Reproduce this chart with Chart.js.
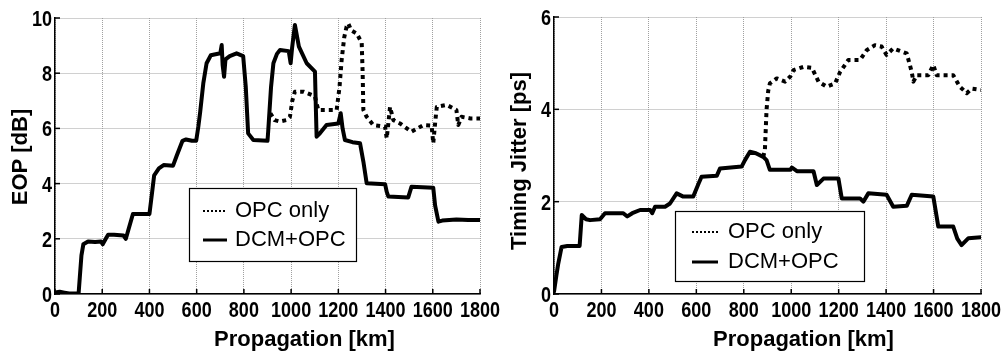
<!DOCTYPE html>
<html><head><meta charset="utf-8">
<script src="https://cdn.jsdelivr.net/npm/chart.js@4.4.0/dist/chart.umd.min.js"></script>
<style>
html,body{margin:0;padding:0;background:#fff;width:1003px;height:356px;overflow:hidden}
#w1{position:absolute;left:0;top:0;width:500px;height:356px}
#w2{position:absolute;left:500px;top:0;width:503px;height:356px}
</style></head><body>
<div id="w1"><canvas id="c1" width="500" height="356"></canvas></div>
<div id="w2"><canvas id="c2" width="503" height="356"></canvas></div>
<script>
// ---- Data: EOP [dB] vs propagation [km]
const eopDcmKm  = [0,20,40,60,100,105,112,120,140,170,195,202,215,225,250,290,300,310,330,360,400,410,420,440,460,500,515,540,555,580,598,607,615,628,642,660,700,706,710,716,722,740,769,797,808,818,840,900,903,915,925,940,953,990,998,1004,1016,1033,1066,1101,1104,1108,1122,1150,1200,1210,1218,1228,1260,1292,1306,1320,1398,1405,1412,1496,1510,1602,1610,1624,1640,1700,1750,1800];
const eopDcmVal = [0.05,0.08,0.05,0.02,0.02,0.6,1.4,1.8,1.9,1.88,1.9,1.8,2.0,2.15,2.15,2.12,2.0,2.3,2.9,2.9,2.9,3.6,4.3,4.55,4.67,4.65,5.0,5.55,5.6,5.55,5.55,6.06,6.6,7.63,8.36,8.65,8.72,9.02,8.3,7.87,8.5,8.62,8.72,8.62,7.5,5.82,5.58,5.55,5.9,7.5,8.36,8.7,8.84,8.8,8.36,8.9,9.75,8.96,8.36,8.06,7.0,5.7,5.82,6.12,6.18,6.55,6.0,5.58,5.5,5.46,4.8,4.01,3.98,3.7,3.53,3.5,3.89,3.85,3.2,2.62,2.66,2.7,2.68,2.68];
const eopOpcKm  = [912,930,953,980,995,1005,1016,1052,1090,1101,1108,1115,1193,1205,1214,1225,1235,1242,1255,1278,1299,1303,1306,1320,1348,1398,1405,1412,1419,1433,1461,1490,1510,1560,1595,1602,1610,1617,1659,1700,1708,1722,1760,1800];
const eopOpcVal = [6.55,6.3,6.25,6.3,6.42,7.0,7.33,7.33,7.2,7.15,6.9,6.67,6.67,7.5,8.48,9.3,9.69,9.8,9.55,9.44,9.1,8.0,6.67,6.42,6.12,6.06,5.64,6.2,6.78,6.3,6.18,6.0,5.88,6.12,6.1,5.46,6.2,6.78,6.85,6.67,6.12,6.42,6.36,6.36];
// ---- Data: Timing jitter [ps] vs propagation [km]
const tjDcmKm  = [0,10,18,32,56,108,117,135,152,194,215,292,309,330,363,405,414,426,468,489,517,545,587,610,622,686,700,791,805,826,851,882,896,910,996,1003,1024,1094,1108,1136,1199,1213,1290,1304,1325,1402,1430,1487,1508,1599,1620,1683,1700,1718,1747,1800];
const tjDcmVal = [0.05,0.4,0.66,1.02,1.04,1.04,1.71,1.62,1.6,1.62,1.75,1.75,1.68,1.75,1.82,1.82,1.75,1.89,1.89,1.96,2.18,2.11,2.11,2.4,2.54,2.56,2.72,2.76,2.9,3.08,3.05,2.97,2.9,2.69,2.69,2.74,2.66,2.66,2.36,2.5,2.5,2.07,2.07,2.0,2.18,2.15,1.89,1.91,2.15,2.11,1.46,1.46,1.2,1.06,1.21,1.23];
const tjOpcKm  = [882,889,896,903,910,939,974,996,1010,1052,1087,1115,1150,1185,1206,1241,1290,1318,1353,1381,1402,1430,1487,1508,1515,1529,1578,1599,1613,1683,1711,1740,1761,1800];
const tjOpcVal = [2.97,3.12,3.99,4.4,4.56,4.67,4.6,4.71,4.85,4.92,4.9,4.6,4.49,4.56,4.81,5.07,5.07,5.28,5.39,5.36,5.18,5.32,5.21,4.81,4.6,4.74,4.74,4.96,4.74,4.74,4.49,4.35,4.45,4.42];
// ---- Labels
const seriesLabels = ['OPC only','DCM+OPC'];
const xTitle = 'Propagation [km]';
const yTitles = ['EOP [dB]','Timing Jitter [ps]'];

const pts = (xs, ys) => xs.map((x,i)=>({x:x, y:ys[i]}));
const TEXTFONT = "'Liberation Sans',Arial,sans-serif";

const decor = {
  id:'decor',
  afterDraw(chart, args, o){
    const ctx = chart.ctx, a = chart.chartArea;
    const xs = chart.scales.x, ys = chart.scales.y;
    ctx.save();
    // inner tick marks
    ctx.strokeStyle = '#000'; ctx.lineWidth = 1.5;
    xs.ticks.forEach(t=>{ const p = xs.getPixelForValue(t.value);
      ctx.beginPath(); ctx.moveTo(p, a.bottom); ctx.lineTo(p, a.bottom-5); ctx.stroke(); });
    ys.ticks.forEach(t=>{ const p = ys.getPixelForValue(t.value);
      ctx.beginPath(); ctx.moveTo(a.left, p); ctx.lineTo(a.left+5, p); ctx.stroke(); });
    // tick labels (bold, condensed)
    ctx.fillStyle = '#000';
    ctx.font = 'bold 22px ' + TEXTFONT;
    ctx.textBaseline = 'alphabetic';
    ctx.textAlign = 'center';
    xs.ticks.forEach(t=>{ const p = xs.getPixelForValue(t.value);
      ctx.save(); ctx.translate(p, a.bottom + 23); ctx.scale(0.82, 1);
      ctx.fillText(String(t.value), 0, 0); ctx.restore(); });
    ctx.textAlign = 'right';
    ys.ticks.forEach(t=>{ const p = ys.getPixelForValue(t.value);
      ctx.save(); ctx.translate(a.left - 3, p + 8); ctx.scale(0.82, 1);
      ctx.fillText(String(t.value), 0, 0); ctx.restore(); });
    // axis titles
    ctx.textAlign = 'center';
    ctx.fillText(o.xTitle, (a.left+a.right)/2 + o.xTitleDx, o.xTitleY);
    ctx.save();
    ctx.translate(o.yTitleX, o.yTitleY); ctx.rotate(-Math.PI/2);
    ctx.fillText(o.yTitle, 0, 0);
    ctx.restore();
    // legend box
    const L = o.legend;
    ctx.fillStyle = '#fff'; ctx.fillRect(L.x, L.y, L.w, L.h);
    ctx.strokeStyle = '#000'; ctx.lineWidth = 1.2; ctx.setLineDash([]);
    ctx.strokeRect(L.x+0.5, L.y+0.5, L.w, L.h);
    ctx.font = '22px ' + TEXTFONT; ctx.textAlign = 'left'; ctx.textBaseline = 'middle';
    chart.data.datasets.forEach((ds, i)=>{
      const yy = L.y + L.row0 + i*L.rowGap;
      const dotted = ds.borderDash && ds.borderDash.length;
      ctx.beginPath();
      ctx.lineWidth = dotted ? 2 : 3;
      ctx.setLineDash(dotted ? [2,2] : []);
      ctx.moveTo(L.x + L.s0, yy); ctx.lineTo(L.x + L.s1, yy); ctx.stroke();
      ctx.setLineDash([]);
      ctx.fillStyle = '#000';
      ctx.fillText(ds.label, L.x + L.tx, yy);
    });
    ctx.restore();
  }
};

function makeChart(id, opcPts, dcmPts, yMax, yStep, yTitle, cfg){
  return new Chart(document.getElementById(id), {
    type:'line',
    data:{ datasets:[
      {label:seriesLabels[0], data:opcPts, borderColor:'#000', borderWidth:4, borderDash:[4,4], borderCapStyle:'butt', borderJoinStyle:'round', pointRadius:0, tension:0, fill:false},
      {label:seriesLabels[1], data:dcmPts, borderColor:'#000', borderWidth:4, borderJoinStyle:'round', borderCapStyle:'round', pointRadius:0, tension:0, fill:false}
    ]},
    options:{
      responsive:false, animation:false, devicePixelRatio:1,
      layout:{padding:{top:cfg.top, right:cfg.right, left:0, bottom:0}},
      plugins:{ legend:{display:false}, tooltip:{enabled:false},
        decor:{ xTitle:xTitle, xTitleDx:cfg.xTitleDx, xTitleY:346, yTitle:yTitle, yTitleX:cfg.yTitleX, yTitleY:cfg.yTitleY, legend:cfg.legend } },
      scales:{
        x:{ type:'linear', min:0, max:1800,
          ticks:{ stepSize:200, display:false, autoSkip:false },
          grid:{ color:'#a0a0a0', lineWidth:1, drawTicks:false },
          border:{ display:true, color:'#000', width:1.5, dash:[1,1] },
          afterFit(s){ s.height = 62; } },
        y:{ type:'linear', min:0, max:yMax,
          ticks:{ stepSize:yStep, display:false },
          grid:{ color:'#a0a0a0', lineWidth:1, drawTicks:false },
          border:{ display:true, color:'#000', width:1.5, dash:[1,1] },
          afterFit(s){ s.width = cfg.yw; } }
      }
    },
    plugins:[decor]
  });
}

const c1 = makeChart('c1', pts(eopOpcKm,eopOpcVal), pts(eopDcmKm,eopDcmVal), 10, 2, yTitles[0],
  {top:18, right:20, yw:55, xTitleDx:37, yTitleX:27, yTitleY:157,
   legend:{x:189, y:188, w:167, h:73, row0:23, rowGap:29, s0:14, s1:38, tx:46}});
const c2 = makeChart('c2', pts(tjOpcKm,tjOpcVal), pts(tjDcmKm,tjDcmVal), 6, 2, yTitles[1],
  {top:17, right:22, yw:54, xTitleDx:36, yTitleX:26, yTitleY:161,
   legend:{x:175, y:211, w:189, h:70, row0:21, rowGap:30, s0:17, s1:43, tx:53}});
</script>
</body></html>
